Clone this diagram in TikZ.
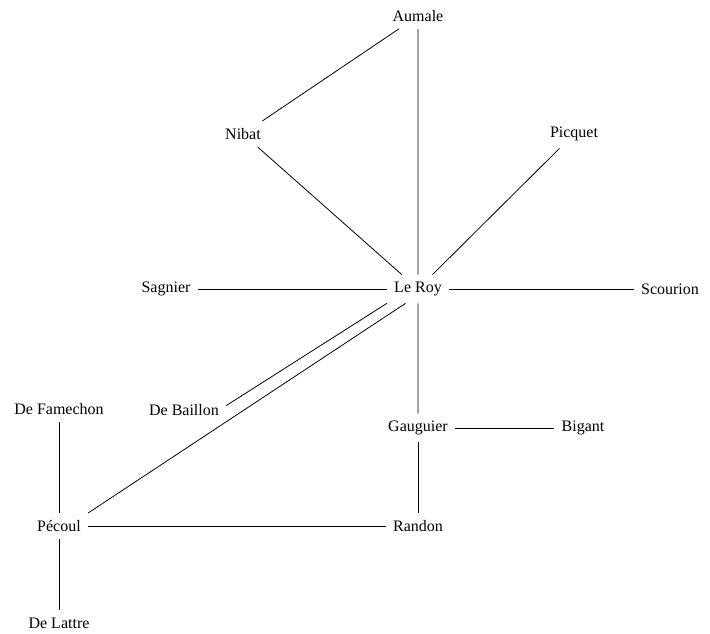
\documentclass[tikz,border=0pt]{standalone}
\usepackage{fontspec}
\setmainfont{Liberation Serif}
\begin{document}
\begin{tikzpicture}[x=1pt,y=-1pt,thick,
		nom/.style={inner sep=7pt,font=\fontsize{16}{19}\selectfont}]
				\useasboundingbox (0,0) rectangle (710,634);
				\node[nom] (aumale) at (418,16) {Aumale};
				\node[nom] (nibat) at (243,134) {Nibat};
				\node[nom] (picquet) at (574,134) {Picquet};
				\node[nom] (sagnier) at (166,289) {Sagnier};
				\node[nom] (leroy) at (418,289) {Le Roy};
				\node[nom] (scourion) at (670,289) {Scourion};
				\node[nom] (baillon) at (184,410) {De Baillon};
				\node[nom] (gauguier) at (418,428) {Gauguier};
				\node[nom] (bigant) at (583,428) {Bigant};
				\node[nom] (famechon) at (59,409) {De Famechon};
				\node[nom] (pecoul) at (59,526) {Pécoul};
				\node[nom] (randon) at (418,526) {Randon};
				\node[nom] (lattre) at (59,623) {De Lattre};
				\draw (aumale)--(nibat)  (aumale)--(leroy)  (nibat)--(leroy)  (picquet)--(leroy);
				\draw (sagnier)--(leroy)  (leroy)--(scourion);
				\draw (leroy.south west)--(baillon.6)  (leroy.229)--(pecoul.north east)  (leroy)--(gauguier);
				\draw (gauguier)--(bigant)  (gauguier)--(randon)  (pecoul)--(randon);
				\draw (famechon)--(pecoul)  (pecoul)--(lattre);
		\end{tikzpicture}
\end{document}
